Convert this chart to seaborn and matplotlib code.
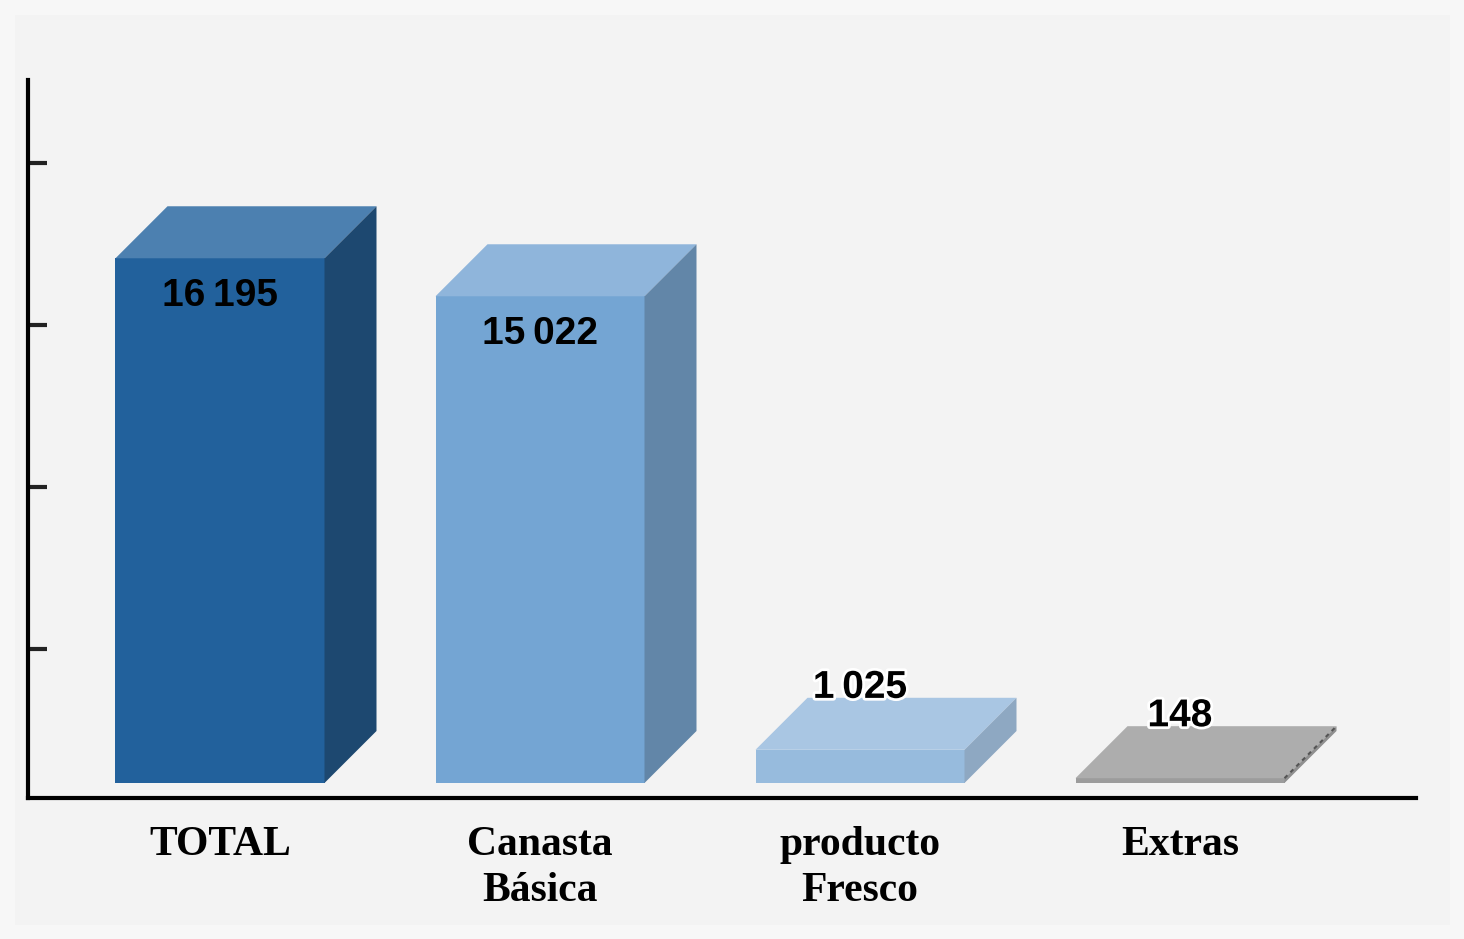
import matplotlib
matplotlib.use("Agg")
import matplotlib.pyplot as plt
import matplotlib.patheffects as pe
from matplotlib.patches import Polygon, Rectangle
import seaborn as sns
import pandas as pd

# data
categories = ["TOTAL", "Canasta\nBásica", "producto\nFresco", "Extras"]
values = [16195, 15022, 1025, 148]
value_labels = ["16\u2009195", "15\u2009022", "1\u2009025", "148"]
front_colors = ["#22619c", "#74a5d3", "#97bbdd", "#9c9c9c"]
top_colors = ["#4c80b0", "#8fb5db", "#a9c6e3", "#adadad"]
side_colors = ["#1d4870", "#6286a8", "#8ea8c2", "#8f8f8f"]
tick_values = [4136, 9136, 14136, 19136]

df = pd.DataFrame({"category": categories, "value": values})

sns.set_style("white")
plt.rcParams["font.family"] = ["Liberation Sans", "DejaVu Sans"]

fig = plt.figure(figsize=(14.64, 9.39), dpi=100, facecolor="#f7f7f7")
fig.patches.append(Rectangle((15 / 1464, 14 / 939), 1435 / 1464, 910 / 939,
                             transform=fig.transFigure, facecolor="#f3f3f3",
                             edgecolor="none", zorder=-10))
ax = fig.add_axes([28 / 1464, 141 / 939, 1388 / 1464, 718 / 939])
ax.set_facecolor("none")

bar_w = 209 / 320
sns.barplot(data=df, x="category", y="value", hue="category",
            palette=front_colors, width=bar_w, legend=False, ax=ax,
            saturation=1, linewidth=0)

ax.set_xlim(-0.6, 1388 / 320 - 0.6)
ax.set_ylim(-463, 21697)

# depth of the fake 3D box
dx = 52 / 320
dy = 1605

for i, patch in enumerate(list(ax.patches)):
    x0 = patch.get_x()
    x1 = x0 + patch.get_width()
    h = patch.get_height()
    top = Polygon([(x0, h), (x1, h), (x1 + dx, h + dy), (x0 + dx, h + dy)],
                  closed=True, facecolor=top_colors[i], edgecolor="none", zorder=3)
    side = Polygon([(x1, 0), (x1 + dx, dy), (x1 + dx, h + dy), (x1, h)],
                   closed=True, facecolor=side_colors[i], edgecolor="none", zorder=3)
    ax.add_patch(top)
    ax.add_patch(side)
    if i == 3:
        ax.plot([x1, x1 + dx], [h, h + dy], color="#555555", lw=1.5,
                ls=(0, (2, 2)), zorder=4)

    cx = x0 + patch.get_width() / 2
    if h > 5000:
        ax.text(cx, h - 600, value_labels[i], ha="center", va="top",
                fontsize=28, fontweight="bold", color="black", zorder=5)
    else:
        ax.text(cx, h + dy - 250, value_labels[i], ha="center", va="bottom",
                fontsize=28, fontweight="bold", color="black", zorder=5,
                path_effects=[pe.withStroke(linewidth=4, foreground="white")])

sns.despine(ax=ax)
for side_name in ["left", "bottom"]:
    ax.spines[side_name].set_color("black")
    ax.spines[side_name].set_linewidth(3)

ax.set_yticks(tick_values)
ax.set_yticklabels([])
ax.tick_params(axis="y", direction="in", length=14, width=3, color="#222222", left=True)
ax.tick_params(axis="x", length=0, pad=20, colors="black")
ax.set_xticks(range(len(categories)))
ax.set_xticklabels(categories, fontsize=30, fontweight="bold", color="black",
                   family=["Liberation Serif", "DejaVu Serif"], linespacing=1.3,
                   va="top")
ax.set_xlabel("")
ax.set_ylabel("")

fig.savefig("out.png", dpi=100, facecolor=fig.get_facecolor())
